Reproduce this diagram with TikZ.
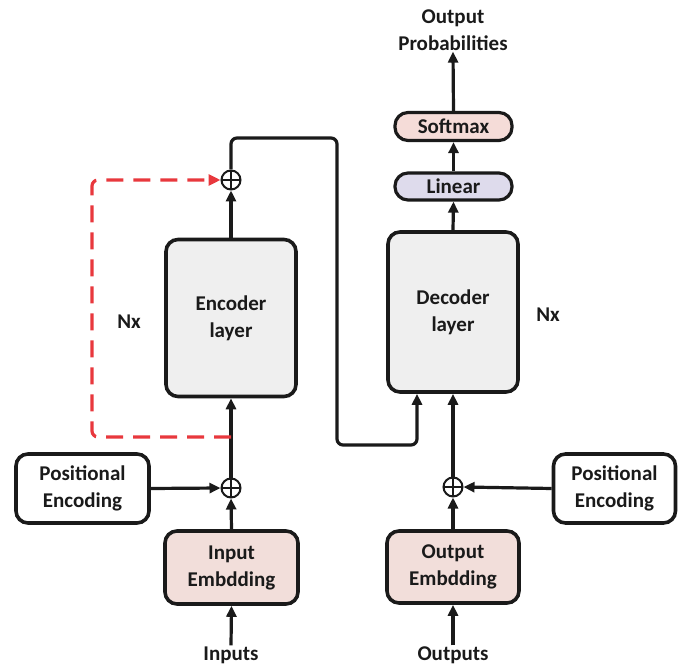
\documentclass[tikz,border=0pt]{standalone}
\usepackage{fontspec}
\setmainfont{Carlito}
\usetikzlibrary{arrows.meta,calc}
\definecolor{layerfill}{HTML}{EFEFEF}
\definecolor{embfill}{HTML}{F2DEDA}
\definecolor{softfill}{HTML}{F5DCD8}
\definecolor{linfill}{HTML}{DEDBEC}
\definecolor{skipred}{HTML}{E8383D}
\definecolor{ink}{HTML}{1A1A1A}
\tikzset{
  every node/.style={font=\fontsize{21}{27}\selectfont\bfseries, text=ink},
  block/.style={draw=ink, line width=3.6pt, rounded corners=12pt, align=center, inner sep=0pt},
  pill/.style={draw=ink, line width=3.2pt, rounded corners=13pt, align=center, inner sep=0pt},
  adder/.style={circle, draw=ink, line width=2pt, minimum size=19pt, inner sep=0pt,
    path picture={
      \draw[ink, line width=1.8pt] (path picture bounding box.north) -- (path picture bounding box.south)
        (path picture bounding box.west) -- (path picture bounding box.east);}},
  flow/.style={draw=ink, line width=3.2pt, -{Triangle[length=11pt,width=10pt]}},
  skip/.style={draw=skipred, line width=3.2pt, dash pattern=on 17pt off 10pt, rounded corners=6pt,
    -{Triangle[length=12pt,width=11pt]}},
  label/.style={inner sep=1pt, align=center}
}
\begin{document}
\begin{tikzpicture}[x=1pt,y=-1pt]
\useasboundingbox (0,0) rectangle (678,668);

% encoder side
\node[block, fill=layerfill, minimum width=130pt, minimum height=157pt] (enc) at (231,318) {Encoder\\layer};
\node[block, fill=embfill, minimum width=133pt, minimum height=73pt] (inemb) at (231.5,567.5) {Input\\Embdding};
\node[block, fill=white, minimum width=133pt, minimum height=69pt] (pein) at (82.5,488.5) {Positional\\Encoding};
\node[adder] (addin) at (231,488) {};
\node[adder] (addenc) at (231,180) {};
\node[label] (inputs) at (231,655) {Inputs};
\node[label] (nxenc) at (129,322) {Nx};

% decoder side
\node[block, fill=layerfill, minimum width=130pt, minimum height=160pt] (dec) at (453,312) {Decoder\\layer};
\node[block, fill=embfill, minimum width=132pt, minimum height=72pt] (outemb) at (453,567) {Output\\Embdding};
\node[block, fill=white, minimum width=122pt, minimum height=69pt] (peout) at (614.5,488.5) {Positional\\Encoding};
\node[adder] (adddec) at (453,487) {};
\node[label] (outputs) at (453,655) {Outputs};
\node[label] (nxdec) at (548,315) {Nx};
\node[pill, fill=linfill, minimum width=117pt, minimum height=27pt] (linear) at (453.5,186.5) {Linear};
\node[pill, fill=softfill, minimum width=117pt, minimum height=28pt] (softmax) at (453.5,126.5) {Softmax};
\node[label] (probs) at (453,30) {Output\\Probabilities};

% encoder flow
\draw[flow] (inputs.north) -- (inemb.south);
\draw[flow] (inemb.north) -- (addin.south);
\draw[flow] (pein.east) -- (addin.west);
\draw[flow] (addin.north) -- (enc.south);
\draw[flow] (enc.north) -- (addenc.south);

% encoder output routed into the decoder
\coordinate (bendA) at (231,138);
\coordinate (bendB) at (337,138);
\coordinate (bendC) at (337,445);
\coordinate (bendD) at (417,445);
\draw[flow, rounded corners=6pt] (addenc.north) -- (bendA) -- (bendB) -- (bendC) -- (bendD) -- (bendD |- dec.south);

% stacked-layer loop
\coordinate (loopstart) at (231,437);
\coordinate (loopL) at (92,437);
\coordinate (loopT) at (92,180);
\draw[skip] (loopstart) -- (loopL) -- (loopT) -- (addenc.west);

% decoder flow
\draw[flow] (outputs.north) -- (outemb.south);
\draw[flow] (outemb.north) -- (adddec.south);
\draw[flow] (peout.west) -- (adddec.east);
\draw[flow] (adddec.north) -- (dec.south);
\draw[flow] (dec.north) -- (linear.south);
\draw[flow] (linear.north) -- (softmax.south);
\draw[flow] (softmax.north) -- (probs.south);
\end{tikzpicture}
\end{document}
